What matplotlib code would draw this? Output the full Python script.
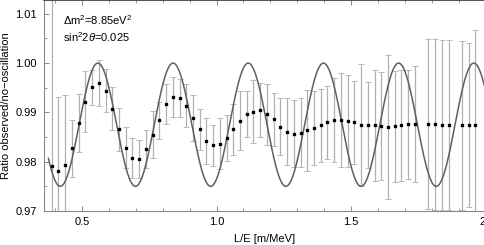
import numpy as np
import matplotlib
matplotlib.use('Agg')
import matplotlib.pyplot as plt
from matplotlib.ticker import MultipleLocator

plt.rcParams['font.family'] = ['Liberation Sans', 'DejaVu Sans']
plt.rcParams['mathtext.fontset'] = 'custom'
plt.rcParams['mathtext.rm'] = 'Liberation Sans'
plt.rcParams['mathtext.it'] = 'Liberation Sans:italic'

# oscillation parameters shown on the chart
dm2 = 8.85
sin2_2theta = 0.025

# binned data: L/E centre, ratio, error
le = [0.3875, 0.4125, 0.4375, 0.4625, 0.4875, 0.5125, 0.5375, 0.5625, 0.5875, 0.6125,
      0.6375, 0.6625, 0.6875, 0.7125, 0.7375, 0.7625, 0.7875, 0.8125, 0.8375, 0.8625,
      0.8875, 0.9125, 0.9375, 0.9625, 0.9875, 1.0125, 1.0375, 1.0625, 1.0875, 1.1125,
      1.1375, 1.1625, 1.1875, 1.2125, 1.2375, 1.2625, 1.2875, 1.3125, 1.3375, 1.3625,
      1.3875, 1.4125, 1.4375, 1.4625, 1.4875, 1.5125, 1.5375, 1.5625, 1.5875, 1.6125,
      1.6375, 1.6625, 1.6875, 1.7125, 1.7375, 1.7875, 1.8125, 1.8375, 1.8625, 1.9125,
      1.9375, 1.9625]
ratio = [0.97915, 0.97813, 0.97923, 0.98274, 0.98789, 0.99215, 0.99508, 0.99596, 0.99439, 0.99073,
         0.98654, 0.98285, 0.98077, 0.98057, 0.98254, 0.98545, 0.98837, 0.99169, 0.99317, 0.99297,
         0.99134, 0.98884, 0.98654, 0.98417, 0.98329, 0.98362, 0.98484, 0.98654, 0.98829, 0.98965,
         0.99012, 0.99041, 0.98959, 0.98858, 0.98707, 0.98606, 0.98565, 0.98585, 0.98634, 0.98681,
         0.98736, 0.98797, 0.98843, 0.98843, 0.98829, 0.98797, 0.98742, 0.98742, 0.98736, 0.98722,
         0.98707, 0.98715, 0.98736, 0.98756, 0.98768, 0.98762, 0.98756, 0.98748, 0.98742, 0.98736,
         0.98742, 0.98742]
err = [0.045, 0.0149, 0.0142, 0.0058, 0.0059, 0.0062, 0.0035, 0.0046, 0.0044, 0.0044,
       0.0043, 0.0041, 0.0040, 0.0039, 0.0038, 0.0048, 0.0038, 0.0041, 0.0041, 0.0039,
       0.0044, 0.0047, 0.0041, 0.0047, 0.0041, 0.0052, 0.0047, 0.0051, 0.0060, 0.0046,
       0.0064, 0.0055, 0.0062, 0.0053, 0.0058, 0.0068, 0.0068, 0.0070, 0.0082, 0.0075,
       0.0074, 0.0074, 0.0085, 0.0095, 0.0093, 0.0084, 0.0123, 0.0087, 0.0112, 0.0110,
       0.0146, 0.0113, 0.0113, 0.0111, 0.0117, 0.0172, 0.0173, 0.0173, 0.0173, 0.0172,
       0.0167, 0.0193]

# expected ratio for the best-fit parameters
L = np.linspace(0.375, 2.05, 600)
model = 1 - sin2_2theta * np.sin(1.27 * dm2 * L) ** 2

fig = plt.figure(figsize=(4.85, 2.45), dpi=100)
ax = fig.add_axes([44 / 485, 34 / 245, 441.5 / 485, 211 / 245])

ax.errorbar(le, ratio, yerr=err, fmt='none', ecolor='#b0b0b0', elinewidth=0.9,
            capsize=2, capthick=0.6, zorder=2)
ax.plot(L, model, color='#5e5e68', lw=1.1, zorder=3)
ax.plot(le, ratio, 's', color='black', markersize=1.6, zorder=4)

ax.set_xlim(0.3587, 2.0)
ax.set_ylim(0.97, 1.0128)
ax.set_xticks([0.5, 1.0, 1.5, 2.0])
ax.set_xticklabels(['0.5', '1.0', '1.5', '2'])
ax.set_yticks([0.97, 0.98, 0.99, 1.00, 1.01])
ax.set_yticklabels(['0.97', '0.98', '0.99', '1.00', '1.01'])
ax.xaxis.set_minor_locator(MultipleLocator(0.1))
ax.yaxis.set_minor_locator(MultipleLocator(0.005))
ax.tick_params(which='both', direction='in', color='#888888', labelsize=8,
               top=True, right=False)
ax.tick_params(which='major', length=3.5, width=0.7)
ax.tick_params(which='minor', length=2, width=0.6)
ax.tick_params(axis='y', pad=5)
ax.tick_params(axis='x', pad=4)
ax.get_xticklabels()[-1].set_horizontalalignment('right')

for s in ['left', 'bottom']:
    ax.spines[s].set_color('#888888')
    ax.spines[s].set_linewidth(0.8)
ax.spines['top'].set_color('#333333')
ax.spines['top'].set_linewidth(1.2)
ax.spines['right'].set_visible(False)

ax.set_xlabel('L/E [m/MeV]', fontsize=8, labelpad=5)
ax.set_ylabel('Ratio observed/no\u2212oscillation', fontsize=8, labelpad=3)

ax.text(0.043, 0.905, '\u0394m$^2$=8.85eV$^2$', transform=ax.transAxes,
        fontsize=8, ha='left', va='center')
ax.text(0.043, 0.825, 'sin$^2$2$\\mathit{\\theta}$=0.025', transform=ax.transAxes,
        fontsize=8, ha='left', va='center')

fig.savefig('out.png', dpi=100)
